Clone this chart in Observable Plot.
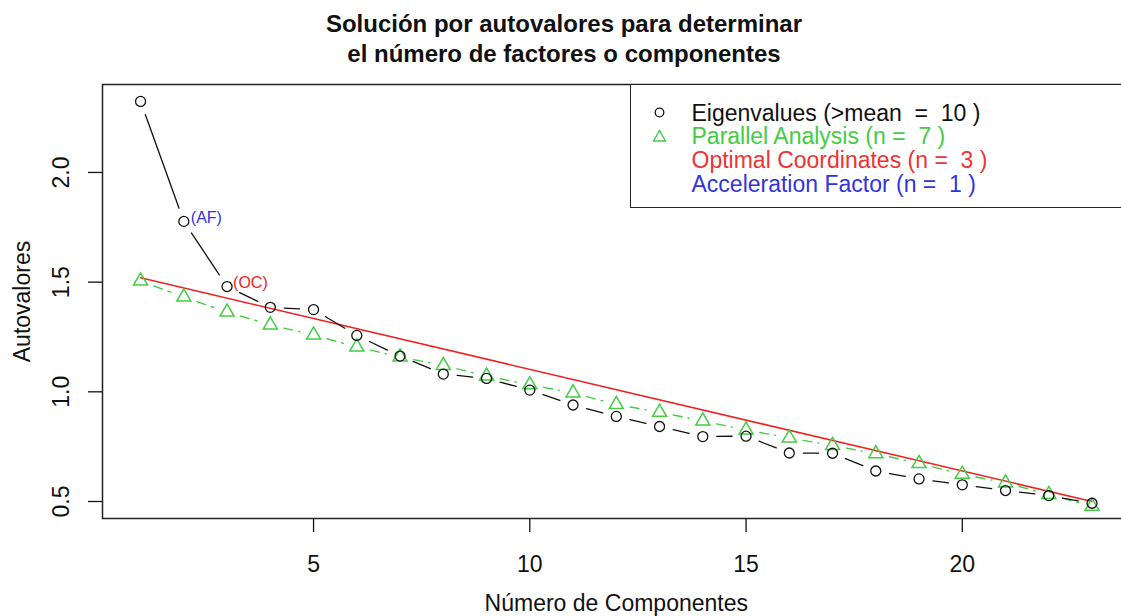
<!DOCTYPE html>
<html>
<head>
<meta charset="utf-8">
<script src="https://cdn.jsdelivr.net/npm/d3@7"></script>
<script src="https://cdn.jsdelivr.net/npm/@observablehq/plot@0.6"></script>
<style>
  html, body { margin: 0; padding: 0; background: #fff; overflow: hidden; }
  #wrap { position: relative; width: 1121px; height: 616px; overflow: hidden;
          font-family: "Liberation Sans", Arial, sans-serif; color: #111; }
  #wrap svg { overflow: hidden; display: block; }
  #title { position: absolute; left: 0; top: 8.7px; width: 1128px; text-align: center;
           font-weight: bold; font-size: 24px; line-height: 30px; color: #111; }
  #legend { position: absolute; left: 630px; top: 84px; width: 495px; height: 124px;
            box-sizing: border-box; border: 1.5px solid #222; border-right: none; background: #fff; }
  #legend .txt { position: absolute; left: 60.5px; top: 16.7px; font-size: 23px;
                 line-height: 23.7px; white-space: pre; }
  #legend svg { position: absolute; left: 0; top: 0; }
</style>
</head>
<body>
<div id="wrap">
  <div id="chart"></div>
  <div id="title"><div>Solución por autovalores para determinar</div><div>el número de factores o componentes</div></div>
  <div id="legend">
    <svg width="60" height="120">
      <circle cx="28.5" cy="27.5" r="4.3" fill="none" stroke="#111" stroke-width="1.3"></circle>
      <path d="M28.5,45.5 L34.5,56 L22.5,56 Z" fill="none" stroke="#44cc44" stroke-width="1.4"></path>
    </svg>
    <div class="txt"><div style="color:#111">Eigenvalues (&gt;mean  =  10 )</div><div style="color:#44cc44">Parallel Analysis (n =  7 )</div><div style="color:#ee3333">Optimal Coordinates (n =  3 )</div><div style="color:#3333dd">Acceleration Factor (n =  1 )</div></div>
  </div>
</div>
<script>
// ---- data ----
const components = [1,2,3,4,5,6,7,8,9,10,11,12,13,14,15,16,17,18,19,20,21,22,23];
const eigenvalues = [2.324,1.777,1.480,1.385,1.375,1.257,1.163,1.081,1.061,1.008,0.940,0.888,0.842,0.796,0.798,0.721,0.720,0.639,0.603,0.576,0.550,0.527,0.492];
const parallelAnalysis = [1.505,1.432,1.364,1.305,1.259,1.204,1.159,1.120,1.072,1.032,0.995,0.942,0.907,0.867,0.826,0.790,0.755,0.718,0.673,0.624,0.585,0.532,0.478];
const ocLineX = [1, 23];
const ocLineY = [1.52, 0.50];
const xTicks = [5, 10, 15, 20];
const yTicks = [0.5, 1.0, 1.5, 2.0];
const xLabel = "Número de Componentes";
const yLabel = "Autovalores";

// ---- tables ----
const eig = components.map((c, i) => ({x: c, y: eigenvalues[i]}));
const par = components.map((c, i) => ({x: c, y: parallelAnalysis[i]}));
const oc = ocLineX.map((x, i) => ({x, y: ocLineY[i]}));
const segs = a => d3.pairs(a).map(([p, q]) => ({x1: p.x, y1: p.y, x2: q.x, y2: q.y}));

const GREEN = "#44cc44", RED = "#ee2222", BLUE = "#3333dd";

const chart = Plot.plot({
  width: 1121,
  height: 616,
  marginLeft: 102,
  marginRight: -8.6,
  marginTop: 84,
  marginBottom: 98,
  x: {domain: [0.12, 23.88]},
  y: {domain: [0.4225, 2.401]},
  style: {fontFamily: "'Liberation Sans', Arial, sans-serif", background: "white", color: "#111", overflow: "hidden"},
  marks: [
    Plot.axisX({ticks: xTicks, tickSize: 14, tickPadding: 23, fontSize: 23, label: null, strokeWidth: 1.3}),
    Plot.axisY({ticks: yTicks, tickSize: 14, tickFormat: () => "", label: null, strokeWidth: 1.3}),
    Plot.text(yTicks, {y: d => d, text: d => d.toFixed(1), frameAnchor: "left", dx: -41, rotate: -90, fontSize: 23, textAnchor: "middle", lineAnchor: "middle"}),
    Plot.text([yLabel], {text: d => d, frameAnchor: "left", dx: -80, rotate: -90, fontSize: 23, textAnchor: "middle", lineAnchor: "middle"}),
    Plot.text([xLabel], {text: d => d, frameAnchor: "bottom", dy: 85, fontSize: 23, textAnchor: "middle", lineAnchor: "middle"}),
    Plot.line(oc, {x: "x", y: "y", stroke: RED, strokeWidth: 1.5}),
    Plot.arrow(segs(par), {x1: "x1", y1: "y1", x2: "x2", y2: "y2", insetStart: 14, insetEnd: 14, headLength: 0, stroke: GREEN, strokeWidth: 1.4, strokeDasharray: "9,6"}),
    Plot.arrow(segs(eig), {x1: "x1", y1: "y1", x2: "x2", y2: "y2", insetStart: 14, insetEnd: 14, headLength: 0, stroke: "#111", strokeWidth: 1.3}),
    Plot.dot(par, {x: "x", y: "y", symbol: "triangle", r: 5.2, stroke: GREEN, strokeWidth: 1.5, fill: "none"}),
    Plot.dot(eig, {x: "x", y: "y", r: 5, stroke: "#111", strokeWidth: 1.3, fill: "none"}),
    Plot.text([eig[1]], {x: "x", y: "y", text: () => "(AF)", dx: 7, dy: -4, textAnchor: "start", fill: BLUE, fontSize: 16}),
    Plot.text([eig[2]], {x: "x", y: "y", text: () => "(OC)", dx: 6, dy: -4, textAnchor: "start", fill: RED, fontSize: 16}),
    Plot.frame({stroke: "#222", strokeWidth: 1.5})
  ]
});
document.getElementById("chart").appendChild(chart);
</script>
</body>
</html>
